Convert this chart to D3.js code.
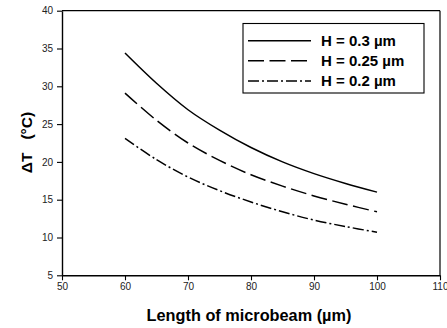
<!DOCTYPE html>
<html><head><meta charset="utf-8">
<script src="https://cdn.jsdelivr.net/npm/d3@7"></script>
<style>
html,body{margin:0;padding:0;background:#fff;}
svg{display:block;}
text{font-family:"Liberation Sans",Arial,sans-serif;}
</style></head>
<body>
<svg id="c" width="447" height="328"></svg>
<script>
const lengths = [60, 65, 70, 75, 80, 85, 90, 95, 100];
const h03 = [34.4, 30.4, 26.9, 24.2, 21.9, 20.0, 18.45, 17.15, 16.0];
const h025 = [29.1, 25.5, 22.5, 20.2, 18.3, 16.8, 15.5, 14.4, 13.4];
const h02 = [23.1, 20.3, 18.0, 16.2, 14.7, 13.4, 12.3, 11.45, 10.7];
const seriesNames = ["H = 0.3 \u00b5m", "H = 0.25 \u00b5m", "H = 0.2 \u00b5m"];
const xTicks = [50, 60, 70, 80, 90, 100, 110];
const yTicks = [5, 10, 15, 20, 25, 30, 35, 40];
const xTitle = "Length of microbeam (\u00b5m)";
const yTitle = "\u0394T   (\u00b0C)";

const series = [h03, h025, h02];
const dashes = [null, "16,5.5", "11,3,2,3"];

const svg = d3.select("#c");
const L = 62, R = 440, T = 10.7, B = 275.3;
const x = d3.scaleLinear().domain([50, 110]).range([L, R]);
const y = d3.scaleLinear().domain([5, 40]).range([B, T]);

// frame
svg.append("line").attr("x1", L).attr("x2", R).attr("y1", T).attr("y2", T).attr("stroke", "#000").attr("stroke-width", 1.2);
svg.append("line").attr("x1", R).attr("x2", R).attr("y1", T).attr("y2", B).attr("stroke", "#000").attr("stroke-width", 1.2);

const xAxis = svg.append("g").attr("transform", `translate(0,${B})`)
  .call(d3.axisBottom(x).tickValues(xTicks).tickSize(5).tickSizeOuter(0).tickPadding(3));
const yAxis = svg.append("g").attr("transform", `translate(${L},0)`)
  .call(d3.axisLeft(y).tickValues(yTicks).tickSize(5).tickSizeOuter(0).tickPadding(4));
[xAxis, yAxis].forEach(g => {
  g.select(".domain").attr("stroke", "#000").attr("stroke-width", 1.4);
  g.selectAll(".tick line").attr("stroke", "#000").attr("stroke-width", 1.1);
  g.selectAll(".tick text").attr("fill", "#222").style("font-size", "10px")
    .style("font-family", '"Liberation Sans",Arial,sans-serif');
});

const line = d3.line().x(d => x(d[0])).y(d => y(d[1])).curve(d3.curveCatmullRom.alpha(0.5));
series.forEach((s, i) => {
  svg.append("path")
    .datum(lengths.map((l, j) => [l, s[j]]))
    .attr("d", line)
    .attr("fill", "none").attr("stroke", "#000").attr("stroke-width", 1.5)
    .attr("stroke-dasharray", dashes[i]);
});

// legend
const lg = svg.append("g");
lg.append("rect").attr("x", 243).attr("y", 23.5).attr("width", 181).attr("height", 69.5)
  .attr("fill", "#fff").attr("stroke", "#000").attr("stroke-width", 1.1);
const rowsY = [40.7, 60.7, 81];
seriesNames.forEach((n, i) => {
  lg.append("line").attr("x1", 248).attr("x2", 311).attr("y1", rowsY[i]).attr("y2", rowsY[i])
    .attr("stroke", "#000").attr("stroke-width", 1.5).attr("stroke-dasharray", dashes[i]);
  lg.append("text").attr("x", 321).attr("y", rowsY[i] + 5).text(n)
    .style("font-size", "15px").style("font-weight", "bold").attr("fill", "#000");
});

// titles
svg.append("text").attr("x", (L + R) / 2 - 2).attr("y", 321).attr("text-anchor", "middle")
  .style("font-size", "16.3px").style("font-weight", "bold").text(xTitle);
svg.append("text").attr("transform", `translate(32,${(T + B) / 2 - 0.5}) rotate(-90)`)
  .attr("text-anchor", "middle").style("white-space", "pre")
  .style("font-size", "15.5px").style("font-weight", "bold").text(yTitle);
</script>
</body></html>
